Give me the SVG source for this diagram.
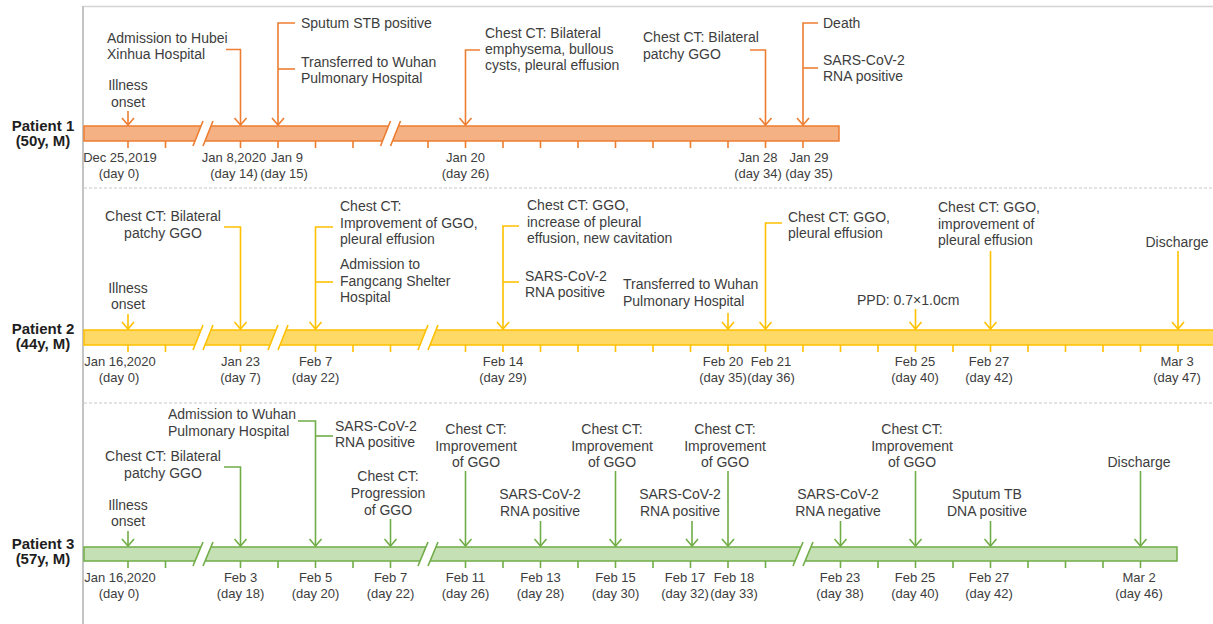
<svg xmlns="http://www.w3.org/2000/svg" width="1213" height="624" viewBox="0 0 1213 624">
<defs>
<style>
text{font-family:"Liberation Sans",Arial,sans-serif;font-size:14px;fill:#3d3d3d}
.tl text{font-size:13px}
.m{text-anchor:middle}
.pl{font-weight:bold;font-size:15px;fill:#1e1e1e;text-anchor:middle}
.o{stroke:#ED7D31;fill:none;stroke-width:1.6}
.y{stroke:#FFC000;fill:none;stroke-width:1.6}
.g{stroke:#70AD47;fill:none;stroke-width:1.6}
.bo{fill:#F4B183;stroke:#ED7D31;stroke-width:1.5}
.by{fill:#FFD966;stroke:#FFC000;stroke-width:1.5}
.bg{fill:#C5E0B4;stroke:#70AD47;stroke-width:1.5}
.brk{fill:#fff;stroke:none}
.sep{stroke:#c8c8c8;stroke-dasharray:3 2;stroke-width:1}
</style>
<marker id="ao" markerUnits="userSpaceOnUse" orient="auto" markerWidth="16" markerHeight="16" viewBox="-8 -8 16 16" refX="0" refY="0"><path d="M-7,-6 L0,0 L-7,6" fill="none" stroke="#ED7D31" stroke-width="1.6"/></marker>
<marker id="ay" markerUnits="userSpaceOnUse" orient="auto" markerWidth="16" markerHeight="16" viewBox="-8 -8 16 16" refX="0" refY="0"><path d="M-7,-6 L0,0 L-7,6" fill="none" stroke="#FFC000" stroke-width="1.6"/></marker>
<marker id="ag" markerUnits="userSpaceOnUse" orient="auto" markerWidth="16" markerHeight="16" viewBox="-8 -8 16 16" refX="0" refY="0"><path d="M-7,-6 L0,0 L-7,6" fill="none" stroke="#70AD47" stroke-width="1.6"/></marker>
</defs>
<rect width="1213" height="624" fill="#fff"/>
<g id="frame">
<line x1="83" y1="6.5" x2="1213" y2="6.5" stroke="#d4d4d4" stroke-width="1.5"/>
<line x1="83" y1="6" x2="83" y2="624" stroke="#c4c4c4" stroke-width="2"/>
<line class="sep" x1="84" y1="188" x2="1213" y2="188"/>
<line class="sep" x1="84" y1="403" x2="1213" y2="403"/>
</g>

<!-- Patient 1 -->
<g id="patient1-label"><text class="pl" x="43" y="131">Patient 1</text><text class="pl" x="43" y="146">(50y, M)</text></g>
<g id="timeline1" class="tl">
<rect class="bo" x="84" y="126" width="755" height="15"/>
<path class="o" d="M128,141v7M165.5,141v7M240.5,141v7M278,141v7M315.5,141v7M353,141v7M428,141v7M465.5,141v7M503,141v7M540.5,141v7M578,141v7M615.5,141v7M653,141v7M690.5,141v7M728,141v7M765.5,141v7M803,141v7"/>
<polygon class="brk" points="193,146 203,121 213,121 203,146"/>
<path class="o" d="M193,146L203,121M203,146L213,121"/>
<polygon class="brk" points="380.5,146 390.5,121 400.5,121 390.5,146"/>
<path class="o" d="M380.5,146L390.5,121M390.5,146L400.5,121"/>
<text class="m" x="120" y="162">Dec 25,2019</text><text class="m" x="119" y="178">(day 0)</text>
<text class="m" x="234" y="162">Jan 8,2020</text><text class="m" x="234" y="178">(day 14)</text>
<text class="m" x="287" y="162">Jan 9</text><text class="m" x="284" y="178">(day 15)</text>
<text class="m" x="465.5" y="162">Jan 20</text><text class="m" x="465.5" y="178">(day 26)</text>
<text class="m" x="758" y="162">Jan 28</text><text class="m" x="758" y="178">(day 34)</text>
<text class="m" x="809" y="162">Jan 29</text><text class="m" x="809" y="178">(day 35)</text>
</g>
<g id="p1-onset"><text class="m" x="128" y="90">Illness</text><text class="m" x="128" y="107">onset</text></g>
<g id="p1-admission"><text x="107" y="43">Admission to Hubei</text><text x="107" y="59">Xinhua Hospital</text></g>
<g id="p1-sputum"><text x="301" y="28">Sputum STB positive</text></g>
<g id="p1-transfer"><text x="301" y="67">Transferred to Wuhan</text><text x="301" y="83">Pulmonary Hospital</text></g>
<g id="p1-ct1"><text x="485" y="38">Chest CT: Bilateral</text><text x="485" y="54">emphysema, bullous</text><text x="485" y="70">cysts, pleural effusion</text></g>
<g id="p1-ct2"><text x="643" y="42">Chest CT: Bilateral</text><text x="643" y="59">patchy GGO</text></g>
<g id="p1-death"><text x="823" y="28">Death</text></g>
<g id="p1-rna"><text x="823" y="65">SARS-CoV-2</text><text x="823" y="81">RNA positive</text></g>

<!-- Patient 2 -->
<g id="patient2-label"><text class="pl" x="43" y="334">Patient 2</text><text class="pl" x="43" y="349">(44y, M)</text></g>
<g id="timeline2" class="tl">
<rect class="by" x="84" y="330" width="1135" height="15"/>
<path class="y" d="M128,345v7M165.5,345v7M240.5,345v7M315.5,345v7M353,345v7M390.5,345v7M465.5,345v7M503,345v7M540.5,345v7M578,345v7M615.5,345v7M653,345v7M690.5,345v7M728,345v7M765.5,345v7M803,345v7M840.5,345v7M878,345v7M915.5,345v7M953,345v7M990.5,345v7M1028,345v7M1065.5,345v7M1103,345v7M1140.5,345v7M1178,345v7"/>
<polygon class="brk" points="193,350 203,325 213,325 203,350"/>
<path class="y" d="M193,350L203,325M203,350L213,325"/>
<polygon class="brk" points="268,350 278,325 288,325 278,350"/>
<path class="y" d="M268,350L278,325M278,350L288,325"/>
<polygon class="brk" points="418,350 428,325 438,325 428,350"/>
<path class="y" d="M418,350L428,325M428,350L438,325"/>
<text class="m" x="120" y="366">Jan 16,2020</text><text class="m" x="119" y="382">(day 0)</text>
<text class="m" x="240.5" y="366">Jan 23</text><text class="m" x="240.5" y="382">(day 7)</text>
<text class="m" x="315.5" y="366">Feb 7</text><text class="m" x="315.5" y="382">(day 22)</text>
<text class="m" x="503" y="366">Feb 14</text><text class="m" x="503" y="382">(day 29)</text>
<text class="m" x="723" y="366">Feb 20</text><text class="m" x="723" y="382">(day 35)</text>
<text class="m" x="771" y="366">Feb 21</text><text class="m" x="771" y="382">(day 36)</text>
<text class="m" x="915" y="366">Feb 25</text><text class="m" x="915" y="382">(day 40)</text>
<text class="m" x="989" y="366">Feb 27</text><text class="m" x="989" y="382">(day 42)</text>
<text class="m" x="1177" y="366">Mar 3</text><text class="m" x="1177" y="382">(day 47)</text>
</g>
<g id="p2-onset"><text class="m" x="128" y="293">Illness</text><text class="m" x="128" y="309">onset</text></g>
<g id="p2-ct1"><text class="m" x="163" y="221">Chest CT: Bilateral</text><text class="m" x="163" y="238">patchy GGO</text></g>
<g id="p2-ct2"><text x="340" y="211">Chest CT:</text><text x="340" y="227.5">Improvement of GGO,</text><text x="340" y="244">pleural effusion</text></g>
<g id="p2-admission"><text x="340" y="269">Admission to</text><text x="340" y="285.5">Fangcang Shelter</text><text x="340" y="302">Hospital</text></g>
<g id="p2-ct3"><text x="527" y="210">Chest CT: GGO,</text><text x="527" y="226.5">increase of pleural</text><text x="527" y="243">effusion, new cavitation</text></g>
<g id="p2-rna"><text x="525" y="281">SARS-CoV-2</text><text x="525" y="297">RNA positive</text></g>
<g id="p2-transfer"><text x="623" y="289">Transferred to Wuhan</text><text x="623" y="306">Pulmonary Hospital</text></g>
<g id="p2-ct4"><text x="788" y="222">Chest CT: GGO,</text><text x="788" y="238">pleural effusion</text></g>
<g id="p2-ppd"><text x="857" y="305">PPD: 0.7×1.0cm</text></g>
<g id="p2-ct5"><text x="938" y="212">Chest CT: GGO,</text><text x="938" y="228.5">improvement of</text><text x="938" y="245">pleural effusion</text></g>
<g id="p2-discharge"><text class="m" x="1177" y="247">Discharge</text></g>

<!-- Patient 3 -->
<g id="patient3-label"><text class="pl" x="43" y="549">Patient 3</text><text class="pl" x="43" y="564">(57y, M)</text></g>
<g id="timeline3" class="tl">
<rect class="bg" x="84" y="547" width="1093" height="14"/>
<path class="g" d="M128,561v7M165.5,561v7M240.5,561v7M278,561v7M315.5,561v7M353,561v7M390.5,561v7M465.5,561v7M503,561v7M540.5,561v7M578,561v7M615.5,561v7M653,561v7M690.5,561v7M728,561v7M765.5,561v7M840.5,561v7M878,561v7M915.5,561v7M953,561v7M990.5,561v7M1028,561v7M1065.5,561v7M1103,561v7M1140.5,561v7"/>
<polygon class="brk" points="193,566 203,542 213,542 203,566"/>
<path class="g" d="M193,566L203,542M203,566L213,542"/>
<polygon class="brk" points="418,566 428,542 438,542 428,566"/>
<path class="g" d="M418,566L428,542M428,566L438,542"/>
<polygon class="brk" points="793,566 803,542 813,542 803,566"/>
<path class="g" d="M793,566L803,542M803,566L813,542"/>
<text class="m" x="120" y="582">Jan 16,2020</text><text class="m" x="119" y="598">(day 0)</text>
<text class="m" x="240.5" y="582">Feb 3</text><text class="m" x="240.5" y="598">(day 18)</text>
<text class="m" x="315.5" y="582">Feb 5</text><text class="m" x="315.5" y="598">(day 20)</text>
<text class="m" x="390.5" y="582">Feb 7</text><text class="m" x="390.5" y="598">(day 22)</text>
<text class="m" x="465.5" y="582">Feb 11</text><text class="m" x="465.5" y="598">(day 26)</text>
<text class="m" x="540.5" y="582">Feb 13</text><text class="m" x="540.5" y="598">(day 28)</text>
<text class="m" x="615.5" y="582">Feb 15</text><text class="m" x="615.5" y="598">(day 30)</text>
<text class="m" x="685" y="582">Feb 17</text><text class="m" x="685" y="598">(day 32)</text>
<text class="m" x="734" y="582">Feb 18</text><text class="m" x="734" y="598">(day 33)</text>
<text class="m" x="840" y="582">Feb 23</text><text class="m" x="840" y="598">(day 38)</text>
<text class="m" x="915" y="582">Feb 25</text><text class="m" x="915" y="598">(day 40)</text>
<text class="m" x="989" y="582">Feb 27</text><text class="m" x="989" y="598">(day 42)</text>
<text class="m" x="1139" y="582">Mar 2</text><text class="m" x="1139" y="598">(day 46)</text>
</g>
<g id="p3-onset"><text class="m" x="128" y="510">Illness</text><text class="m" x="128" y="526">onset</text></g>
<g id="p3-ct1"><text class="m" x="163" y="461">Chest CT: Bilateral</text><text class="m" x="163" y="478">patchy GGO</text></g>
<g id="p3-admission"><text x="168" y="419">Admission to Wuhan</text><text x="168" y="436">Pulmonary Hospital</text></g>
<g id="p3-rna1"><text x="335" y="431">SARS-CoV-2</text><text x="335" y="447">RNA positive</text></g>
<g id="p3-ct2"><text class="m" x="388" y="481">Chest CT:</text><text class="m" x="388" y="498">Progression</text><text class="m" x="388" y="515">of GGO</text></g>
<g id="p3-ct3"><text class="m" x="476" y="434">Chest CT:</text><text class="m" x="476" y="451">Improvement</text><text class="m" x="476" y="467">of GGO</text></g>
<g id="p3-rna2"><text class="m" x="540" y="499">SARS-CoV-2</text><text class="m" x="540" y="516">RNA positive</text></g>
<g id="p3-ct4"><text class="m" x="612" y="434">Chest CT:</text><text class="m" x="612" y="451">Improvement</text><text class="m" x="612" y="467">of GGO</text></g>
<g id="p3-rna3"><text class="m" x="680" y="499">SARS-CoV-2</text><text class="m" x="680" y="516">RNA positive</text></g>
<g id="p3-ct5"><text class="m" x="725" y="434">Chest CT:</text><text class="m" x="725" y="451">Improvement</text><text class="m" x="725" y="467">of GGO</text></g>
<g id="p3-rna4"><text class="m" x="838" y="499">SARS-CoV-2</text><text class="m" x="838" y="516">RNA negative</text></g>
<g id="p3-ct6"><text class="m" x="912" y="434">Chest CT:</text><text class="m" x="912" y="451">Improvement</text><text class="m" x="912" y="467">of GGO</text></g>
<g id="p3-tb"><text class="m" x="987" y="499">Sputum TB</text><text class="m" x="987" y="516">DNA positive</text></g>
<g id="p3-discharge"><text class="m" x="1139" y="467">Discharge</text></g>

<g id="connectors">
<g class="o">
<path d="M128,111V125" marker-end="url(#ao)"/>
<path d="M226,49.5H240.5V125" marker-end="url(#ao)"/>
<path d="M295,23H278V125" marker-end="url(#ao)"/>
<path d="M278,69H295"/>
<path d="M480,50H465.5V125" marker-end="url(#ao)"/>
<path d="M750,50H765.5V125" marker-end="url(#ao)"/>
<path d="M818,23H803V125" marker-end="url(#ao)"/>
<path d="M803,68H818"/>
</g>
<g class="y">
<path d="M128,314V329" marker-end="url(#ay)"/>
<path d="M224,227H240.5V329" marker-end="url(#ay)"/>
<path d="M333,227H315.5V329" marker-end="url(#ay)"/>
<path d="M315.5,282H333"/>
<path d="M519,226H503V329" marker-end="url(#ay)"/>
<path d="M503,282H519"/>
<path d="M728,313V329" marker-end="url(#ay)"/>
<path d="M782,223H765.5V329" marker-end="url(#ay)"/>
<path d="M915.5,309V329" marker-end="url(#ay)"/>
<path d="M990.5,251V329" marker-end="url(#ay)"/>
<path d="M1178,251V329" marker-end="url(#ay)"/>
</g>
<g class="g">
<path d="M128,531V546" marker-end="url(#ag)"/>
<path d="M224,467H240.5V546" marker-end="url(#ag)"/>
<path d="M298,421H315.5V546" marker-end="url(#ag)"/>
<path d="M315.5,436H333"/>
<path d="M390.5,519V546" marker-end="url(#ag)"/>
<path d="M465.5,471V546" marker-end="url(#ag)"/>
<path d="M540.5,521V546" marker-end="url(#ag)"/>
<path d="M615.5,471V546" marker-end="url(#ag)"/>
<path d="M692,521V546" marker-end="url(#ag)"/>
<path d="M728,471V546" marker-end="url(#ag)"/>
<path d="M840.5,521V546" marker-end="url(#ag)"/>
<path d="M915.5,471V546" marker-end="url(#ag)"/>
<path d="M990.5,521V546" marker-end="url(#ag)"/>
<path d="M1140.5,471V546" marker-end="url(#ag)"/>
</g>
</g>
</svg>
